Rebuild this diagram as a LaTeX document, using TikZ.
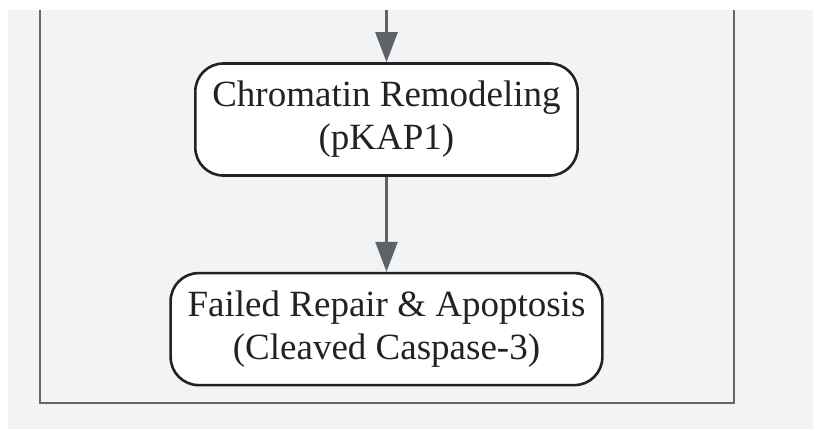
\documentclass[tikz,border=0pt]{standalone}
\usepackage{fontspec}
\setmainfont{Liberation Serif}
\usetikzlibrary{arrows.meta,positioning}
\definecolor{bggray}{HTML}{F2F3F5}
\definecolor{framegray}{HTML}{666666}
\definecolor{arrowgray}{HTML}{5F6368}
\definecolor{inkdark}{HTML}{222222}
\begin{document}
\begin{tikzpicture}[x=1pt, y=1pt,
		stage/.style={draw=inkdark, line width=2.6pt, fill=white, rounded corners=28pt, align=center, text=inkdark,
			font=\fontsize{37}{43}\selectfont, inner xsep=17pt, minimum height=112pt},
		flow/.style={draw=arrowgray, line width=2.6pt, -{Triangle[length=30pt, width=22pt]}}
	]
		\useasboundingbox (0,0) rectangle (813,-429);
		\fill[bggray] (8,-10) rectangle (813,-429);
		\draw[framegray, line width=2.8pt] (40,-10) -- (40,-403) -- (734,-403) -- (734,-10);

		\coordinate (in) at (386.5,-10);
		\node[stage] (rem) at (386.5,-119.5) {Chromatin Remodeling\\(pKAP1)};
		\node[stage, below=95pt of rem] (apo) {Failed Repair \& Apoptosis\\(Cleaved Caspase-3)};

		\draw[flow] (in) -- (rem);
		\draw[flow] (rem) -- (apo);
	\end{tikzpicture}
\end{document}
